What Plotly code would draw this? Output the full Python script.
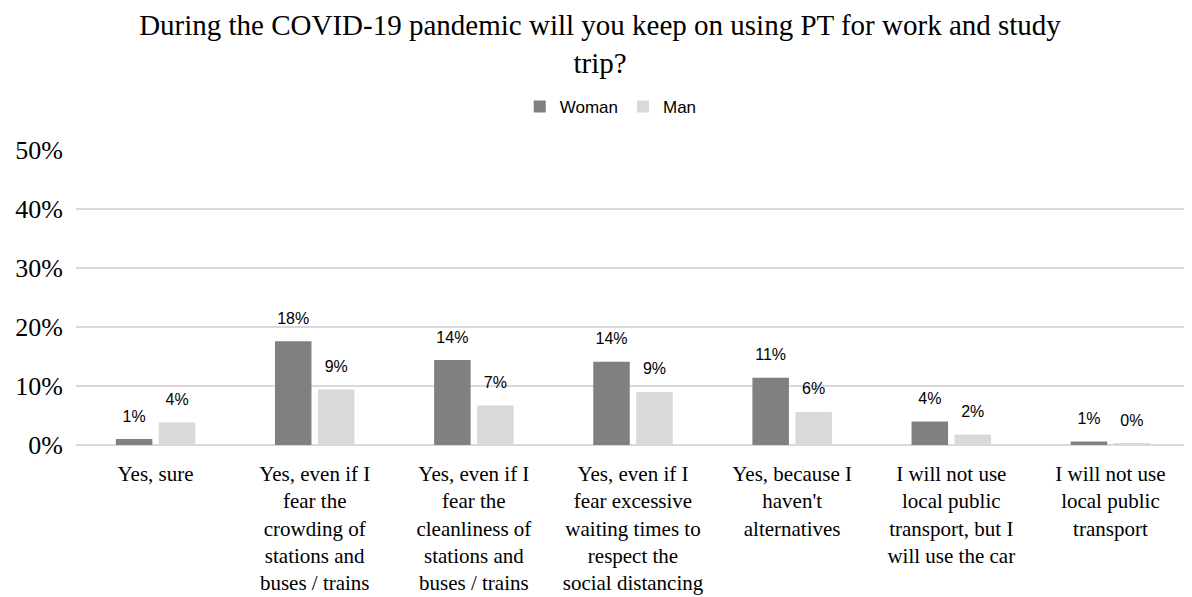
import plotly.graph_objects as go

categories = [
    "Yes, sure",
    "Yes, even if I<br>fear the<br>crowding of<br>stations and<br>buses / trains",
    "Yes, even if I<br>fear the<br>cleanliness of<br>stations and<br>buses / trains",
    "Yes, even if I<br>fear excessive<br>waiting times to<br>respect the<br>social distancing",
    "Yes, because I<br>haven't<br>alternatives",
    "I will not use<br>local public<br>transport, but I<br>will use the car",
    "I will not use<br>local public<br>transport",
]
woman = [0.010, 0.176, 0.144, 0.141, 0.114, 0.040, 0.006]
man = [0.038, 0.094, 0.067, 0.090, 0.056, 0.018, 0.002]

SERIF = "Liberation Serif, Times New Roman, serif"
SANS = "Liberation Sans, Arial, sans-serif"

# the page body has an 8px default margin, so the figure is sized to fit inside it
W, H = 1184, 589

series = [("Woman", woman, "#808080"), ("Man", man, "#d9d9d9")]

fig = go.Figure()
for name, vals, col in series:
    fig.add_trace(
        go.Bar(
            name=name,
            x=categories,
            y=vals,
            marker=dict(color=col, line=dict(width=0)),
            offsetgroup=name,
            hovertemplate="%{y:.1%}<extra>" + name + "</extra>",
        )
    )
# value labels, lifted a little above the bars like in the original
for name, vals, col in series:
    fig.add_trace(
        go.Scatter(
            x=categories,
            y=vals,
            mode="markers+text",
            marker=dict(size=20, color="rgba(0,0,0,0)"),
            text=[f"{v:.0%}" for v in vals],
            textposition="top center",
            textfont=dict(family=SANS, size=16, color="#000000"),
            offsetgroup=name,
            showlegend=False,
            hoverinfo="skip",
            cliponaxis=False,
        )
    )

fig.update_layout(
    width=W,
    height=H,
    paper_bgcolor="white",
    plot_bgcolor="white",
    barmode="group",
    bargap=0.46,
    bargroupgap=0.15,
    scattermode="group",
    scattergap=0.46,
    margin=dict(l=68, r=2, t=142, b=152, autoexpand=False),
    title=dict(
        text="During the COVID-19 pandemic will you keep on using PT for work and study<br>trip?",
        x=0.5,
        xanchor="center",
        yref="container",
        y=1 - 27 / H,
        yanchor="middle",
        font=dict(family=SERIF, size=29, color="#000000"),
    ),
    legend=dict(
        orientation="h",
        x=0.48,
        xanchor="center",
        yref="container",
        y=1 - 99 / H,
        yanchor="middle",
        font=dict(family=SANS, size=17, color="#000000"),
        itemwidth=30,
        traceorder="normal",
    ),
    showlegend=True,
)
fig.update_yaxes(
    range=[0, 0.5],
    dtick=0.1,
    tickformat=".0%",
    showgrid=True,
    gridcolor="#d9d9d9",
    gridwidth=1.5,
    zeroline=True,
    zerolinecolor="#d9d9d9",
    zerolinewidth=1.5,
    showline=False,
    ticks="",
    automargin=False,
    ticklabelstandoff=12,
    tickfont=dict(family=SERIF, size=26, color="#000000"),
)
fig.update_xaxes(
    showline=False,
    ticks="",
    automargin=False,
    ticklabelstandoff=14,
    tickfont=dict(family=SERIF, size=21, color="#000000"),
    tickangle=0,
)

fig.write_html("out.html")
